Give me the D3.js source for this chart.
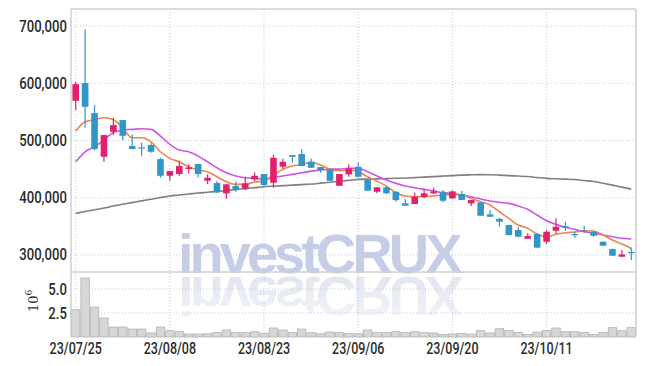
<!DOCTYPE html>
<html>
<head>
<meta charset="utf-8">
<script src="https://cdn.jsdelivr.net/npm/d3@7"></script>
<style>
  body { margin: 0; background: #fff; }
  .tick text { font-family: Roboto, "Liberation Sans", sans-serif; font-weight: 500; fill: #2a2a2a; }
</style>
</head>
<body>
<svg id="chart"></svg>
<script>
const dates = ["23/07/25","23/07/26","23/07/27","23/07/28","23/07/31","23/08/01","23/08/02","23/08/03","23/08/04","23/08/07",
  "23/08/08","23/08/09","23/08/10","23/08/11","23/08/14","23/08/16","23/08/17","23/08/18","23/08/21","23/08/22",
  "23/08/23","23/08/24","23/08/25","23/08/28","23/08/29","23/08/30","23/08/31","23/09/01","23/09/04","23/09/05",
  "23/09/06","23/09/07","23/09/08","23/09/11","23/09/12","23/09/13","23/09/14","23/09/15","23/09/18","23/09/19",
  "23/09/20","23/09/21","23/09/22","23/09/25","23/09/26","23/09/27","23/10/04","23/10/05","23/10/06","23/10/10",
  "23/10/11","23/10/12","23/10/13","23/10/16","23/10/17","23/10/18","23/10/19","23/10/20","23/10/23","23/10/24"];

const open  = [569400,600400,547900,471500,515200,535700,490200,488000,492000,467500,
  438300,441300,450000,458800,429600,425600,407600,420300,416300,432000,
  441300,426100,454100,474500,476300,462800,453500,449500,420800,440800,
  454100,432000,410400,418100,410400,390100,388900,401600,407600,410400,
  398800,406400,390100,391800,370800,363000,352100,343300,328200,336400,
  322900,342200,350000,336500,342500,340400,322900,310100,296700,305000];
const high  = [602600,694800,561900,510000,539700,536000,510700,496700,495000,469800,
  446500,464500,458300,458800,440800,429000,424000,427800,436600,444200,
  441300,475000,468000,474500,484500,468700,454000,451200,441300,458300,
  461000,432000,418100,420800,411000,397600,408600,415000,417400,413300,
  412500,411600,395800,391800,378400,365000,353000,348100,337600,338000,
  343300,363900,357900,340400,350900,342000,323500,311000,308400,312500];
const low   = [553200,522200,483000,462800,509500,500000,485000,473300,478500,434800,
  429600,438300,442500,435500,423800,408000,397900,410400,413300,429000,
  419100,417400,449500,461000,455300,452300,443500,429600,420800,436600,
  436600,412100,407600,407000,392900,385900,388900,398800,406500,392000,
  398000,395800,385400,368400,366000,349200,333900,330800,328200,312500,
  318900,336700,342200,330000,338600,331700,315000,298000,296700,291000];
const close = [598600,558900,485000,509500,526900,508300,485000,487500,480300,438300,
  446500,455300,453000,441300,434800,409300,423300,413300,425000,438300,
  422100,469800,462800,471500,455300,452300,448300,429600,441300,451200,
  436600,412100,418100,407600,395800,385900,401600,407600,411000,394600,
  411000,395800,395800,368400,366700,357900,334600,331700,332900,312500,
  340400,349200,347300,335500,341500,333400,316000,298500,300800,304000];

const ma5  = [516400,532700,536200,539700,536900,521200,504700,504700,497700,480300,
  468700,462700,454000,448300,445300,436500,427800,423300,423300,427300,
  429000,439500,449500,455300,458300,461800,457000,449500,447000,448300,
  445300,436500,429000,420300,408600,402800,401600,401600,402800,404600,
  405800,404600,398800,392800,387100,375400,363800,352100,346400,335900,
  331700,335900,338600,339900,342100,341600,334600,325900,318900,311400];
const ma10 = [462800,480300,489000,500700,514200,518200,519400,520500,519400,507700,
  493200,483200,480300,472700,462800,452300,443500,437800,434800,433800,
  432500,435500,437800,440700,443500,446500,448300,450000,450000,451200,
  451200,445300,437800,430800,425000,420300,417300,414500,412100,408600,
  407500,404600,401600,397600,394100,391800,390000,385300,379600,369600,
  359600,353300,348100,344600,340400,337600,334600,331700,328900,327700];
const ma60 = [372600,375700,378900,381800,385300,388500,391400,394400,397200,400200,
  403000,404600,406300,408100,409400,411000,412600,414200,415900,417500,
  419100,420100,421000,421900,422900,423800,425400,427100,428700,430300,
  432000,432500,432900,433400,433900,434300,435100,436000,436900,437800,
  438600,439500,440000,440400,440200,439500,438600,437800,436900,435300,
  433700,433000,432400,431700,429900,428200,425200,422000,418500,415000];

const volume = [2840000,6150000,3120000,1980000,1040000,1040000,830000,830000,420000,1040000,
  660000,550000,310000,310000,340000,450000,730000,450000,450000,550000,
  400000,940000,730000,480000,830000,450000,340000,520000,450000,340000,
  340000,730000,450000,450000,550000,450000,550000,450000,420000,270000,
  310000,350000,310000,660000,420000,860000,690000,480000,270000,520000,
  660000,940000,550000,550000,480000,270000,480000,970000,660000,970000];

const priceTicks = [300000, 400000, 500000, 600000, 700000];
const volumeTicks = [2500000, 5000000];
const dateTicks = ["23/07/25","23/08/08","23/08/23","23/09/06","23/09/20","23/10/11"];

const W = 645, H = 366;
const padL = 71, padR = 636, padT = 9, ySplit = 272, yBot = 337;

const svg = d3.select("#chart").attr("width", W).attr("height", H);

const x = d3.scaleBand().domain(dates).range([padL, padR]);
const xc = d => x(d) + x.bandwidth() / 2;
const yP = d3.scaleLinear().domain([270000, 730000]).range([ySplit, padT]);
const yV = d3.scaleLinear().domain([0, 6770000]).range([yBot, ySplit]);

const gridColor = "#c8cad8";

// watermark + reflection
const wm = svg.append("g");
const grad = svg.append("defs").append("linearGradient")
  .attr("id", "fade").attr("x1", 0).attr("y1", 0).attr("x2", 0).attr("y2", 1);
grad.append("stop").attr("offset", "0%").attr("stop-color", "#c6cde6").attr("stop-opacity", 0.15);
grad.append("stop").attr("offset", "100%").attr("stop-color", "#c6cde6").attr("stop-opacity", 0.6);
const wmText = (g, fill) => g.append("text")
  .attr("x", 178).attr("y", 273)
  .style("font-family", "Liberation Sans, Arial, sans-serif")
  .style("font-weight", "bold").style("font-size", "56px")
  .style("letter-spacing", "-4px")
  .attr("fill", fill)
  .text("investCRUX");
wmText(wm, "#c6cde6");
wmText(wm.append("g").attr("transform", "translate(0,550) scale(1,-1)"), "url(#fade)");

// grid lines
svg.append("g").selectAll("line").data(priceTicks).join("line")
  .attr("x1", padL).attr("x2", padR)
  .attr("y1", d => yP(d)).attr("y2", d => yP(d))
  .attr("stroke", gridColor).attr("stroke-dasharray", "1,2");
svg.append("g").selectAll("line").data(volumeTicks).join("line")
  .attr("x1", padL).attr("x2", padR)
  .attr("y1", d => yV(d)).attr("y2", d => yV(d))
  .attr("stroke", gridColor).attr("stroke-dasharray", "1,2");
svg.append("g").selectAll("line").data(dateTicks).join("line")
  .attr("x1", d => xc(d)).attr("x2", d => xc(d))
  .attr("y1", padT).attr("y2", yBot)
  .attr("stroke", gridColor).attr("stroke-dasharray", "1,2");

// volume bars
svg.append("g").selectAll("rect").data(dates).join("rect")
  .attr("x", d => x(d) + 0.5)
  .attr("y", (d, i) => yV(volume[i]))
  .attr("width", x.bandwidth() - 1)
  .attr("height", (d, i) => yBot - yV(volume[i]))
  .attr("fill", "#d7d7d7").attr("stroke", "#aaaaaa").attr("stroke-width", 0.7);

// moving averages
const line = arr => d3.line().x((d, i) => xc(dates[i])).y(d => yP(d)).curve(d3.curveMonotoneX)(arr);
svg.append("path").attr("d", line(ma60)).attr("fill", "none").attr("stroke", "#7f7f7f").attr("stroke-width", 1.6);
svg.append("path").attr("d", line(ma10)).attr("fill", "none").attr("stroke", "#cc55e6").attr("stroke-width", 1.6);
svg.append("path").attr("d", line(ma5)).attr("fill", "none").attr("stroke", "#e8864c").attr("stroke-width", 1.6);

// candles
const up = "#e3206c", down = "#3196c8";
const bw = x.bandwidth() * 0.7;
const candles = svg.append("g").selectAll("g").data(dates).join("g");
candles.append("line")
  .attr("x1", d => xc(d)).attr("x2", d => xc(d))
  .attr("y1", (d, i) => yP(high[i])).attr("y2", (d, i) => yP(low[i]))
  .attr("stroke", (d, i) => close[i] >= open[i] ? up : down).attr("stroke-width", 1.2);
candles.append("rect")
  .attr("x", d => xc(d) - bw / 2)
  .attr("y", (d, i) => yP(Math.max(open[i], close[i])))
  .attr("width", bw)
  .attr("height", (d, i) => Math.max(1.2, Math.abs(yP(open[i]) - yP(close[i]))))
  .attr("fill", (d, i) => close[i] >= open[i] ? up : down);

// frame
const frame = svg.append("g").attr("stroke", "#cfcfcf").attr("stroke-width", 1.5).attr("fill", "none");
frame.append("line").attr("x1", padL).attr("x2", padR).attr("y1", padT).attr("y2", padT);
frame.append("line").attr("x1", padR).attr("x2", padR).attr("y1", padT).attr("y2", yBot);
frame.append("line").attr("x1", padL).attr("x2", padL).attr("y1", padT).attr("y2", yBot);
frame.append("line").attr("x1", padL).attr("x2", padR).attr("y1", ySplit).attr("y2", ySplit);

// axes (labels narrowed to mimic the condensed face)
const pAxis = svg.append("g").attr("transform", `translate(${padL},0)`)
  .call(d3.axisLeft(yP).tickValues(priceTicks).tickFormat(d3.format(",")).tickSize(0).tickPadding(5));
const vAxis = svg.append("g").attr("transform", `translate(${padL},0)`)
  .call(d3.axisLeft(yV).tickValues(volumeTicks).tickFormat(d => d3.format(".1f")(d / 1e6)).tickSize(0).tickPadding(5));
const xAxis = svg.append("g").attr("transform", `translate(0,${yBot})`)
  .call(d3.axisBottom(x).tickValues(dateTicks).tickSize(0).tickPadding(6));
[pAxis, vAxis, xAxis].forEach(a => {
  a.select(".domain").remove();
  a.selectAll("text").style("font-size", "16px");
});
[pAxis, vAxis].forEach(a => a.selectAll("text").attr("transform", "scale(0.82,1)"));
xAxis.selectAll("text").attr("transform", "scale(0.78,1)");

// volume unit label
const unit = svg.append("text")
  .attr("transform", "translate(38,312) rotate(-90)")
  .style("font-family", "DejaVu Serif, serif").style("font-size", "13px").attr("fill", "#333");
unit.append("tspan").text("10");
unit.append("tspan").attr("dy", -6).style("font-size", "9px").text("6");
</script>
</body>
</html>
